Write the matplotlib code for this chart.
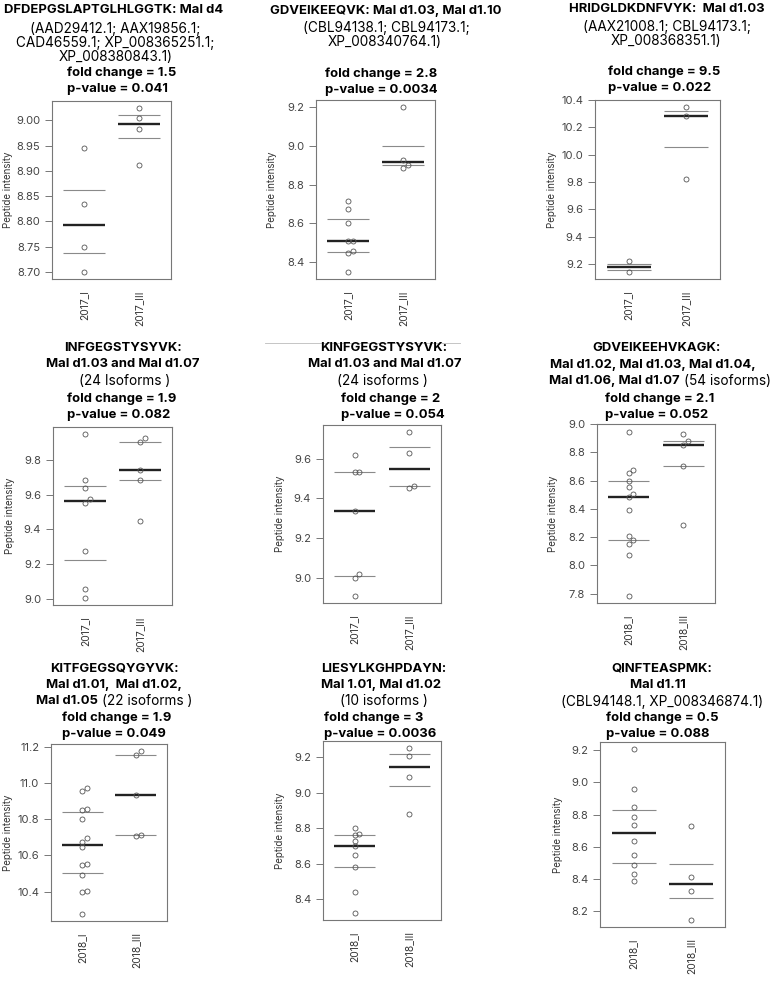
import matplotlib
matplotlib.use('Agg')
import matplotlib.pyplot as plt
from matplotlib.lines import Line2D
import numpy as np

plt.rcParams['font.family'] = ['Inter', 'DejaVu Sans']

W, H, DPI = 770, 983, 100

# ---------------- data ----------------
groups_2017 = ['2017_I', '2017_III']
groups_2018 = ['2018_I', '2018_III']

p1_I = [8.946, 8.834, 8.750, 8.699]
p1_III = [9.025, 9.005, 8.982, 8.912]
p2_I = [8.718, 8.674, 8.604, 8.512, 8.508, 8.458, 8.447, 8.349]
p2_III = [9.200, 8.928, 8.902, 8.886]
p3_I = [9.222, 9.138]
p3_III = [10.352, 10.285, 9.825]
p4_I = [9.950, 9.685, 9.638, 9.572, 9.552, 9.277, 9.059, 9.004]
p4_III = [9.927, 9.903, 9.741, 9.685, 9.451]
p5_I = [9.619, 9.534, 9.534, 9.336, 9.020, 9.000, 8.906]
p5_III = [9.737, 9.631, 9.462, 9.455]
p6_I = [8.945, 8.676, 8.657, 8.600, 8.556, 8.503, 8.484, 8.395, 8.206, 8.182,
        8.155, 8.071, 7.781]
p6_III = [8.926, 8.883, 8.854, 8.705, 8.285]
p7_I = [10.972, 10.958, 10.857, 10.853, 10.800, 10.697, 10.674, 10.645, 10.553,
        10.545, 10.4925, 10.404, 10.398, 10.274]
p7_III = [11.180, 11.157, 10.932, 10.715, 10.709]
p8_I = [8.803, 8.766, 8.760, 8.728, 8.699, 8.649, 8.579, 8.440, 8.319]
p8_III = [9.254, 9.206, 9.086, 8.882]
p9_I = [9.208, 8.960, 8.845, 8.786, 8.733, 8.637, 8.550, 8.485, 8.430, 8.389]
p9_III = [8.727, 8.414, 8.325, 8.145]

yticks_1 = [8.70, 8.75, 8.80, 8.85, 8.90, 8.95, 9.00]
yticks_2 = [8.4, 8.6, 8.8, 9.0, 9.2]
yticks_3 = [9.2, 9.4, 9.6, 9.8, 10.0, 10.2, 10.4]
yticks_4 = [9.0, 9.2, 9.4, 9.6, 9.8]
yticks_5 = [9.0, 9.2, 9.4, 9.6]
yticks_6 = [7.8, 8.0, 8.2, 8.4, 8.6, 8.8, 9.0]
yticks_7 = [10.4, 10.6, 10.8, 11.0, 11.2]
yticks_8 = [8.4, 8.6, 8.8, 9.0, 9.2]
yticks_9 = [8.2, 8.4, 8.6, 8.8, 9.0, 9.2]

fold_changes = ['1.5', '2.8', '9.5', '1.9', '2', '2.1', '1.9', '3', '0.5']
p_values = ['0.041', '0.0034', '0.022', '0.082', '0.054', '0.052', '0.049', '0.0036', '0.088']

B, N = 'bold', 'normal'
titles = [
    [[("DFDEPGSLAPTGLHLGGTK: Mal d4", B)],
     [("(AAD29412.1; AAX19856.1;", N)],
     [("CAD46559.1; XP_008365251.1;", N)],
     [("XP_008380843.1)", N)]],
    [[("GDVEIKEEQVK: Mal d1.03, Mal d1.10", B)],
     [("(CBL94138.1; CBL94173.1;", N)],
     [("XP_008340764.1)", N)]],
    [[("HRIDGLDKDNFVYK:  Mal d1.03", B)],
     [("(AAX21008.1; CBL94173.1;", N)],
     [("XP_008368351.1)", N)]],
    [[("INFGEGSTYSYVK:", B)],
     [("Mal d1.03 and Mal d1.07", B)],
     [("(24 Isoforms )", N)]],
    [[("KINFGEGSTYSYVK:", B)],
     [("Mal d1.03 and Mal d1.07", B)],
     [("(24 isoforms )", N)]],
    [[("GDVEIKEEHVKAGK:", B)],
     [("Mal d1.02, Mal d1.03, Mal d1.04,", B)],
     [("Mal d1.06, Mal d1.07", B), (" (54 isoforms)", N)]],
    [[("KITFGEGSQYGYVK:", B)],
     [("Mal d1.01,  Mal d1.02,", B)],
     [("Mal d1.05", B), (" (22 isoforms )", N)]],
    [[("LIESYLKGHPDAYN:", B)],
     [("Mal 1.01, Mal d1.02", B)],
     [("(10 isoforms )", N)]],
    [[("QINFTEASPMK:", B)],
     [("Mal d1.11", B)],
     [("(CBL94148.1, XP_008346874.1)", N)]],
]

panels = [
    (groups_2017, p1_I, p1_III, yticks_1, '%.2f'),
    (groups_2017, p2_I, p2_III, yticks_2, '%.1f'),
    (groups_2017, p3_I, p3_III, yticks_3, '%.1f'),
    (groups_2017, p4_I, p4_III, yticks_4, '%.1f'),
    (groups_2017, p5_I, p5_III, yticks_5, '%.1f'),
    (groups_2018, p6_I, p6_III, yticks_6, '%.1f'),
    (groups_2018, p7_I, p7_III, yticks_7, '%.1f'),
    (groups_2018, p8_I, p8_III, yticks_8, '%.1f'),
    (groups_2018, p9_I, p9_III, yticks_9, '%.1f'),
]

# ---------------- layout (pixels) ----------------
boxes = [(52, 171, 101, 279), (316, 435, 100, 279), (595, 720, 100, 279),
         (53, 172, 427, 605), (323, 441, 425, 603), (597, 715, 424, 603),
         (51, 167, 744, 921), (323, 441, 741, 920), (600, 725, 742, 927)]
title_x = [(114, 115, 115, 116), (386, 386, 385), (667, 667, 666),
           (123, 123, 125), (384, 385, 382), (657, 653, 660),
           (114, 114, 114), (384, 381, 384), (662, 658, 662)]
title_y = [(10, 29, 43, 57), (11, 28, 42), (9, 27, 41),
           (348, 364, 381), (348, 364, 381), (348, 365, 381),
           (669, 685, 701), (669, 685, 701), (669, 685, 702)]
stat_x = [67, 325, 608, 67, 341, 605, 62, 324, 606]
stat_y = [(73, 89), (74, 90), (72, 88), (399, 415), (399, 415), (399, 415),
          (718, 734), (718, 734), (718, 734)]
ylab_x = [8, 272, 552, 10, 280, 553, 8, 280, 558]

BOLD_FS = 9.4
NORM_FS = 9.8
YTICK_FS = 8.0
XTICK_FS = 7.4
YLAB_FS = 7.0

fig = plt.figure(figsize=(W / DPI, H / DPI), dpi=DPI)
renderer = fig.canvas.get_renderer()


def draw_line(segs, x, y, ha='center'):
    texts, widths = [], []
    for s, w in segs:
        fs = BOLD_FS if w == B else NORM_FS
        lead = len(s) - len(s.lstrip(' '))
        t = fig.text(0, 0, s.strip(' '), fontsize=fs, fontweight=w,
                     ha='left', va='center', color='black')
        wd = t.get_window_extent(renderer=renderer).width
        sp = 0.0
        if lead:
            probe = fig.text(0, 0, 'x x', fontsize=fs, fontweight=w)
            probe2 = fig.text(0, 0, 'xx', fontsize=fs, fontweight=w)
            sp = (probe.get_window_extent(renderer=renderer).width -
                  probe2.get_window_extent(renderer=renderer).width) * lead
            probe.remove(); probe2.remove()
        texts.append((t, sp))
        widths.append(wd + sp)
    total = sum(widths)
    x0 = x - total / 2 if ha == 'center' else x
    for (t, sp), wd in zip(texts, widths):
        t.set_position(((x0 + sp) / W, 1 - y / H))
        x0 += wd


def beeswarm_x(vals, center, ythr, xstep):
    order = np.argsort(vals)
    placed = []
    xs = np.zeros(len(vals))
    for i in order:
        v = vals[i]
        k = 0
        while any(kk == k and abs(v - pv) < ythr for pv, kk in placed):
            k += 1
        placed.append((v, k))
        xs[i] = center + k * xstep
    return xs


for idx, (groups, gI, gIII, yt, fmt) in enumerate(panels):
    l, r, t, b = boxes[idx]
    ax = fig.add_axes([l / W, 1 - b / H, (r - l) / W, (b - t) / H])
    allv = np.array(gI + gIII)
    lo, hi = allv.min(), allv.max()
    pad = 0.04 * (hi - lo)
    ax.set_ylim(lo - pad, hi + pad)
    ax.set_xlim(0.42, 2.58)
    ythr = 5.0 * (hi - lo + 2 * pad) / (b - t)
    xstep = 4.8 * 2.16 / (r - l)
    for gi, vals in enumerate([gI, gIII]):
        c = gi + 1
        v = np.array(vals)
        q1, med, q3 = np.percentile(v, [25, 50, 75])
        ax.hlines([q1, q3], c - 0.38, c + 0.38, colors='#8a8a8a', lw=0.8, zorder=2)
        ax.hlines([med], c - 0.38, c + 0.38, colors='#222222', lw=1.7, zorder=3)
        xs = beeswarm_x(v, c, ythr, xstep)
        ax.plot(xs, v, 'o', ms=3.6, mfc='none', mec='#555555', mew=0.6, zorder=4)
    ax.set_yticks(yt)
    ax.set_yticklabels([fmt % v for v in yt])
    ax.set_xticks([1, 2])
    ax.set_xticklabels(groups, rotation=90)
    ax.tick_params(axis='x', length=0, pad=8, labelsize=XTICK_FS, labelcolor='#333333')
    ax.tick_params(axis='y', length=5, width=0.7, color='#777777', pad=3.5,
                   labelsize=YTICK_FS, labelcolor='#444444')
    for sp in ax.spines.values():
        sp.set_color('#777777')
        sp.set_linewidth(0.8)
    fig.text(ylab_x[idx] / W, 1 - ((t + b) / 2) / H, 'Peptide intensity',
             rotation=90, ha='center', va='center', fontsize=YLAB_FS, color='#333333')
    for li, segs in enumerate(titles[idx]):
        draw_line(segs, title_x[idx][li], title_y[idx][li])
    draw_line([("fold change = " + fold_changes[idx], B)], stat_x[idx], stat_y[idx][0], ha='left')
    draw_line([("p-value = " + p_values[idx], B)], stat_x[idx], stat_y[idx][1], ha='left')

fig.add_artist(Line2D([265 / W, 460 / W], [1 - 343 / H, 1 - 343 / H],
                      color='#bbbbbb', lw=0.6))

fig.savefig('out.png', dpi=DPI)
